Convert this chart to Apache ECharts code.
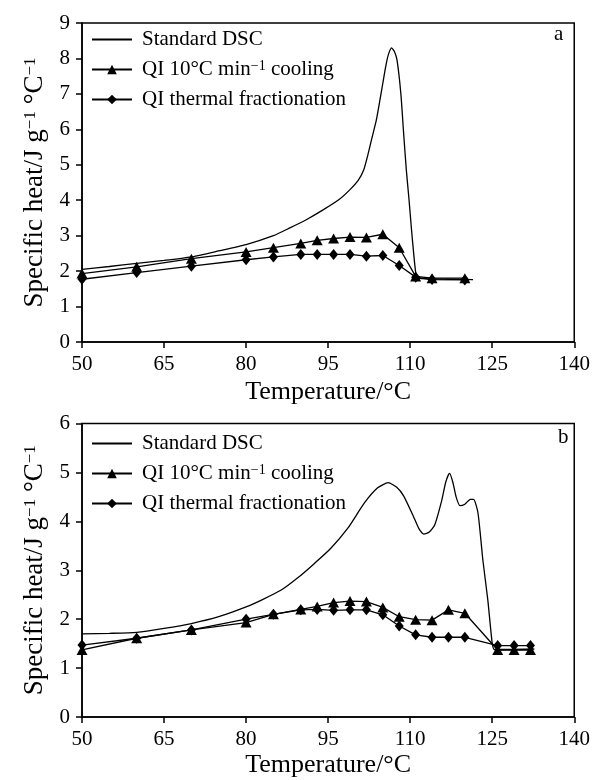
<!DOCTYPE html>
<html>
<head>
<meta charset="utf-8">
<script src="https://cdn.jsdelivr.net/npm/echarts@6/dist/echarts.min.js"></script>
<style>
  html, body { margin: 0; background: #fff; }
  #chart { width: 593px; height: 780px; }
</style>
</head>
<body>
<div id="chart"></div>
<script>
// Panel a - standard DSC trace
const topDscT = [50, 55, 60, 65, 70, 75, 80, 85, 88, 91, 94, 97, 99, 100.5, 101.5, 102.3, 103, 103.8, 104.5, 105, 105.5, 106, 106.6, 107.1, 107.6, 108.3, 108.8, 109.3, 109.8, 110.2, 110.7, 111.1, 111.6, 113, 117, 121.5];
const topDscCp = [2.05, 2.13, 2.22, 2.3, 2.4, 2.57, 2.75, 3.0, 3.22, 3.45, 3.72, 4.02, 4.3, 4.56, 4.85, 5.3, 5.75, 6.25, 6.85, 7.3, 7.75, 8.1, 8.3, 8.2, 7.95, 7.0, 5.9, 4.85, 4.0, 3.25, 2.4, 1.88, 1.8, 1.78, 1.77, 1.76];
// Panel a - QI points
const topQiT = [50, 60, 70, 80, 85, 90, 93, 96, 99, 102, 105, 108, 111, 114, 120];
const topCoolCp = [1.93, 2.12, 2.35, 2.54, 2.66, 2.78, 2.87, 2.92, 2.96, 2.95, 3.04, 2.66, 1.85, 1.8, 1.8];
const topFracCp = [1.77, 1.96, 2.14, 2.32, 2.4, 2.47, 2.47, 2.47, 2.47, 2.42, 2.44, 2.16, 1.83, 1.76, 1.75];

// Panel b - standard DSC trace
const botDscT = [50, 55, 60, 65, 70, 75, 80, 83, 86.5, 89.5, 92.5, 95.5, 98.6, 101.6, 104, 106, 107.5, 108.8, 110.6, 111.6, 112.5, 113.5, 114.5, 115.8, 116.5, 117.2, 117.8, 118.4, 119.1, 120, 121, 121.6, 122.4, 123.3, 124.2, 125, 125.4, 128, 132.7];
const botDscCp = [1.7, 1.71, 1.73, 1.81, 1.91, 2.05, 2.25, 2.4, 2.6, 2.85, 3.14, 3.45, 3.86, 4.37, 4.68, 4.79, 4.7, 4.52, 4.1, 3.85, 3.74, 3.78, 3.93, 4.44, 4.8, 4.98, 4.8, 4.5, 4.32, 4.35, 4.45, 4.45, 4.17, 3.2, 2.39, 1.51, 1.38, 1.38, 1.39];
// Panel b - QI points
const botQiT = [50, 60, 70, 80, 85, 90, 93, 96, 99, 102, 105, 108, 111, 114, 117, 120, 126, 129, 132];
const botCoolCp = [1.37, 1.61, 1.78, 1.93, 2.1, 2.2, 2.26, 2.34, 2.37, 2.36, 2.24, 2.05, 1.99, 1.98, 2.19, 2.12, 1.37, 1.37, 1.37];
const botFracCp = [1.47, 1.61, 1.78, 2.0, 2.1, 2.19, 2.2, 2.18, 2.19, 2.19, 2.09, 1.86, 1.68, 1.63, 1.63, 1.63, 1.46, 1.46, 1.46];

// Axes
const xMin = 50, xMax = 140, xStep = 15;
const topYMax = 9, botYMax = 6;

const names = ['Standard DSC', 'QI 10°C min−1 cooling', 'QI thermal fractionation'];
const font = 'Liberation Serif';
const sup = { fontFamily: font, fontSize: 14, color: '#000', verticalAlign: 'top', lineHeight: 10 };
const supBig = { fontFamily: font, fontSize: 17, color: '#000', verticalAlign: 'top', lineHeight: 12 };

const zip = (xs, ys) => xs.map((x, i) => [x, ys[i]]);

const legendFormatter = name => name.replace('min−1', 'min{sup|−1}');

const makeLegend = top => ({
  // DSC trace: hide the marker, keep the line sample
  data: [{ name: names[0], itemStyle: { opacity: 0 } }, { name: names[1] }, { name: names[2] }],
  orient: 'vertical',
  left: 86,
  top: top,
  itemWidth: 40,
  itemHeight: 12,
  itemGap: 9,
  selectedMode: false,
  formatter: legendFormatter,
  textStyle: {
    fontFamily: font,
    fontSize: 21,
    color: '#000',
    padding: [0, 0, 0, 5],
    rich: { sup: sup }
  }
});

const makeXAxis = (gridIndex, gap) => ({
  type: 'value',
  gridIndex: gridIndex,
  min: xMin,
  max: xMax,
  interval: xStep,
  name: 'Temperature/°C',
  nameLocation: 'middle',
  nameGap: gap,
  nameTextStyle: { fontFamily: font, fontSize: 26, color: '#000' },
  axisLine: { lineStyle: { color: '#000', width: 1.5 } },
  axisTick: { length: 6, lineStyle: { color: '#000', width: 1.5 } },
  axisLabel: { fontFamily: font, fontSize: 21, color: '#000', margin: 12 },
  splitLine: { show: false }
});

const makeYAxis = (gridIndex, max) => ({
  type: 'value',
  gridIndex: gridIndex,
  min: 0,
  max: max,
  interval: 1,
  name: 'Specific heat/J g{sup|−1} °C{sup|−1}',
  nameLocation: 'middle',
  nameRotate: 90,
  nameGap: 32,
  nameTextStyle: { fontFamily: font, fontSize: 27, color: '#000', rich: { sup: supBig } },
  axisLine: { lineStyle: { color: '#000', width: 1.5 } },
  axisTick: { length: 6, lineStyle: { color: '#000', width: 1.5 } },
  axisLabel: { fontFamily: font, fontSize: 21, color: '#000', margin: 12 },
  splitLine: { show: false }
});

const lineSeries = (idx, xs, ys, gridIndex) => {
  const base = {
    name: names[idx],
    type: 'line',
    xAxisIndex: gridIndex,
    yAxisIndex: gridIndex,
    data: zip(xs, ys),
    color: '#000',
    lineStyle: { color: '#000', width: 1.3 },
    itemStyle: { color: '#000' },
    animation: false,
    z: 3 - idx
  };
  if (idx === 0) {
    base.showSymbol = false;
    base.symbol = 'none';
    base.smooth = 0.2;
  } else if (idx === 1) {
    base.symbol = 'triangle';
    base.symbolSize = [11, 10];
  } else {
    base.symbol = 'diamond';
    base.symbolSize = [9, 11];
  }
  return base;
};

const chart = echarts.init(document.getElementById('chart'), null, { renderer: 'canvas' });

chart.setOption({
  backgroundColor: '#fff',
  animation: false,
  title: [
    { text: 'a', left: 554, top: 24, textStyle: { fontFamily: font, fontSize: 21, fontWeight: 'normal', color: '#000' }, padding: 0 },
    { text: 'b', left: 558, top: 427, textStyle: { fontFamily: font, fontSize: 21, fontWeight: 'normal', color: '#000' }, padding: 0 }
  ],
  legend: [makeLegend(24), makeLegend(428)],
  grid: [
    { left: 82, top: 23, width: 495, height: 319, show: true, borderColor: '#000', borderWidth: 1.5, backgroundColor: 'transparent' },
    { left: 82, top: 423.5, width: 495, height: 293.5, show: true, borderColor: '#000', borderWidth: 1.5, backgroundColor: 'transparent' }
  ],
  xAxis: [makeXAxis(0, 37), makeXAxis(1, 35)],
  yAxis: [makeYAxis(0, topYMax), makeYAxis(1, botYMax)],
  series: [
    lineSeries(0, topDscT, topDscCp, 0),
    lineSeries(1, topQiT, topCoolCp, 0),
    lineSeries(2, topQiT, topFracCp, 0),
    lineSeries(0, botDscT, botDscCp, 1),
    lineSeries(1, botQiT, botCoolCp, 1),
    lineSeries(2, botQiT, botFracCp, 1)
  ]
});
</script>
</body>
</html>
